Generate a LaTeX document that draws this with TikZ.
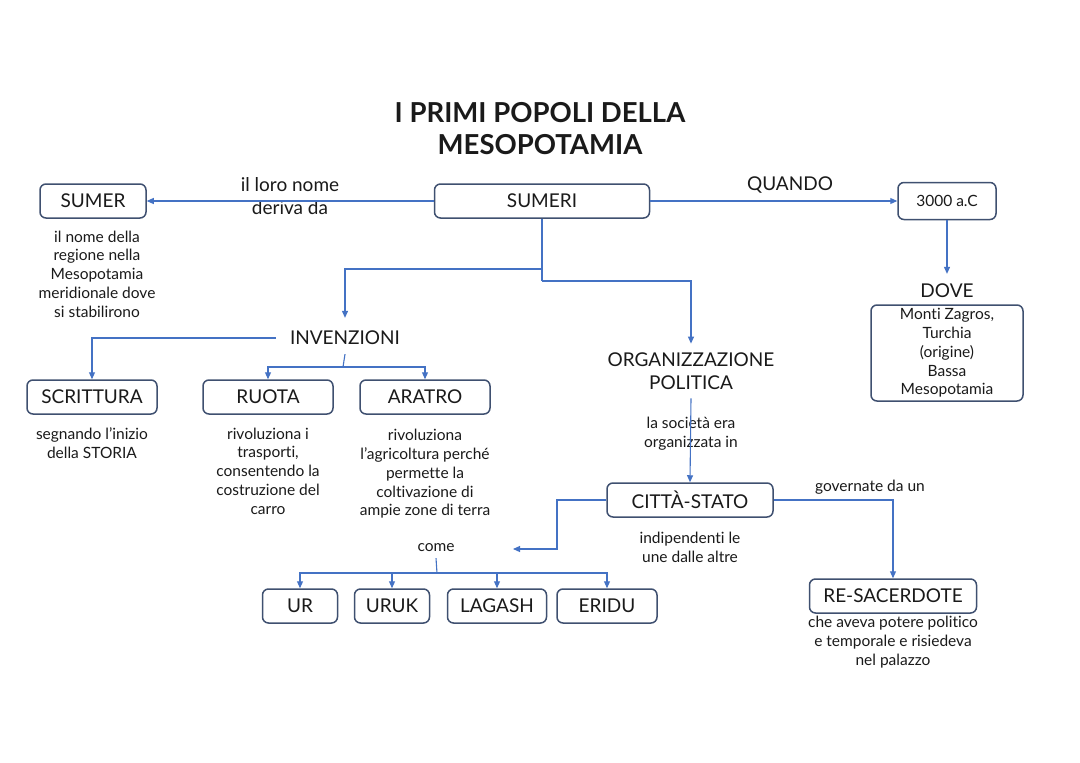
\documentclass[tikz,border=0pt]{standalone}
\usepackage{fontspec}
\setmainfont{Lato}[Ligatures=NoCommon]
\usetikzlibrary{arrows.meta,calc}
\definecolor{lnc}{HTML}{4472C4}
\definecolor{bxc}{HTML}{3F5070}
\definecolor{txc}{HTML}{1A1A1A}
\newcommand\fsA{\fontsize{19pt}{22.5pt}\selectfont}
\newcommand\fsB{\fontsize{15.5pt}{18.8pt}\selectfont}
\newcommand\fsT{\fontsize{27.5pt}{32pt}\selectfont\bfseries}
\tikzset{
  box/.style={draw=bxc, line width=1.5pt, rounded corners=6pt, text=txc, font=\fsA, inner sep=0pt, minimum height=34pt},
  sbox/.style={box, font=\fsB},
  lab/.style={text=txc, font=\fsA, inner sep=0pt, align=center},
  desc/.style={text=txc, font=\fsB, inner sep=0pt, align=center},
  ln/.style={draw=lnc, line width=1.1pt},
  arr/.style={ln, -{Triangle[length=7pt,width=6pt]}}
}
\begin{document}
\begin{tikzpicture}[x=1pt,y=-1pt]
\useasboundingbox (0,0) rectangle (1080,763);
\fill[white] (0,0) rectangle (1080,763);
% title
\node[text=txc, font=\fsT, align=center, inner sep=0pt] (title) at (540,129) {I PRIMI POPOLI DELLA\\MESOPOTAMIA};
% top row
\node[box, minimum width=106pt] (sumer) at (93,201) {SUMER};
\node[box, minimum width=215pt] (sumeri) at (542,201) {SUMERI};
\node[sbox, minimum width=98pt, minimum height=37pt] (t3000) at (947,201) {3000 a.C};
\node[desc] (sumerd) at (97,274) {il nome della\\regione nella\\Mesopotamia\\meridionale dove\\si stabilirono};
\node[lab] (lab1) at (290,196) {il loro nome\\deriva da};
\node[lab] (lab2) at (790,185) {QUANDO};
\node[lab] (dovel) at (947,291) {DOVE};
\node[box, font=\fsB, minimum width=152pt, minimum height=96pt, align=center] (dove) at (947,353) {Monti Zagros,\\Turchia\\(origine)\\Bassa\\Mesopotamia};
\draw[arr] (sumeri.west) -- (sumer.east);
\draw[arr] (sumeri.east) -- (t3000.west);
\draw[arr] (t3000.south) -- ([yshift=10pt]dovel.north);
% branches from SUMERI
\node[lab] (inv) at (345,338) {INVENZIONI};
\node[lab] (org) at (691,371) {ORGANIZZAZIONE\\POLITICA};
\coordinate (k1) at (542,269);
\coordinate (k2) at (542,281);
\draw[arr] (sumeri.south) -- (k1) -| ([yshift=13pt]inv.north);
\draw[ln] (k1) -- (k2);
\draw[arr] (k2) -| ([yshift=9pt]org.north);
% invenzioni
\node[box, minimum width=130pt] (scr) at (92,397) {SCRITTURA};
\node[box, minimum width=130pt] (ruota) at (268,397) {RUOTA};
\node[box, minimum width=130pt] (aratro) at (425,397) {ARATRO};
\node[desc] (scrd) at (92,443) {segnando l’inizio\\della STORIA};
\node[desc] (ruotad) at (268,471) {rivoluziona i\\trasporti,\\consentendo la\\costruzione del\\carro};
\node[desc] (aratrod) at (425,474) {rivoluziona\\l’agricoltura perché\\permette la\\coltivazione di\\ampie zone di terra};
\draw[arr] ([xshift=-14pt]inv.west) -| (scr.north);
\coordinate (k3) at (343,367);
\draw[ln] ([yshift=-9pt]inv.south) -- (k3);
\draw[arr] (k3) -| (ruota.north);
\draw[arr] (k3) -| (aratro.north);
% organizzazione
\node[box, minimum width=166pt] (citta) at (690,500) {CITTÀ-STATO};
\node[desc] (orgl) at (691,434) {la società era\\organizzata in};
\draw[arr] ([yshift=-9pt]org.south) -- (citta.north);
\node[desc] (cittad) at (690,547) {indipendenti le\\une dalle altre};
\node[desc] (come) at (436,548) {come};
\coordinate (k4) at (557,549);
\coordinate (k5) at (513,549);
\draw[arr] (citta.west) -| (k4) -- (k5);
\node[box, minimum width=75pt] (ur) at (300,606) {UR};
\node[box, minimum width=75pt] (uruk) at (392,606) {URUK};
\node[box, minimum width=99pt] (lagash) at (497,606) {LAGASH};
\node[box, minimum width=100pt] (eridu) at (607,606) {ERIDU};
\coordinate (k6) at (437,573);
\draw[ln] ([yshift=-6pt]come.south) -- (k6);
\draw[arr] (k6) -| (ur.north);
\draw[arr] (k6) -| (uruk.north);
\draw[arr] (k6) -| (lagash.north);
\draw[arr] (k6) -| (eridu.north);
% re-sacerdote
\node[desc] (gov) at (870,487) {governate da un};
\node[box, minimum width=167pt] (resac) at (893,596) {RE-SACERDOTE};
\node[desc] (resacd) at (893,642) {che aveva potere politico\\e temporale e risiedeva\\nel palazzo};
\draw[arr] (citta.east) -| (resac.north);
\end{tikzpicture}
\end{document}
